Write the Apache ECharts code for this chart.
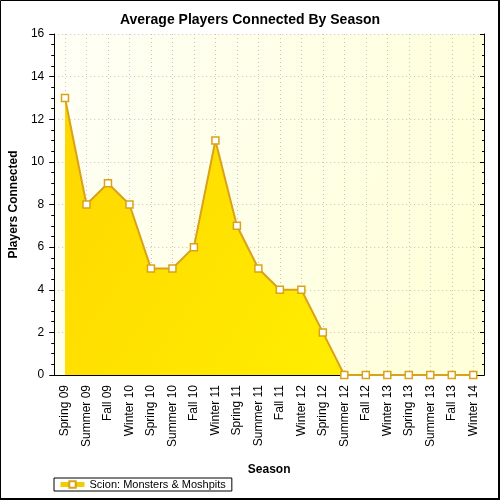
<!DOCTYPE html>
<html>
<head>
<meta charset="utf-8">
<script src="https://cdn.jsdelivr.net/npm/echarts@6/dist/echarts.min.js"></script>
<style>
html,body{margin:0;padding:0;background:#fff;}
#chart{width:500px;height:500px;}
</style>
</head>
<body>
<div id="chart"></div>
<script>
const titleText = 'Average Players Connected By Season';
const seriesName = 'Scion: Monsters & Moshpits';
const categories = ['Spring 09','Summer 09','Fall 09','Winter 10','Spring 10','Summer 10','Fall 10','Winter 11','Spring 11','Summer 11','Fall 11','Winter 12','Spring 12','Summer 12','Fall 12','Winter 13','Spring 13','Summer 13','Fall 13','Winter 14'];
const players = [13, 8, 9, 8, 5, 5, 6, 11, 7, 5, 4, 4, 2, 0, 0, 0, 0, 0, 0, 0];
const yTicks = {min: 0, max: 16, interval: 2};

const chart = echarts.init(document.getElementById('chart'), null, {renderer: 'canvas'});
const font = 'Liberation Sans, Arial, sans-serif';
const lineGold = '#D9A21B';
const option = {
  backgroundColor: '#fff',
  animation: false,
  textStyle: {fontFamily: font},
  title: {
    text: titleText, left: 'center', top: 8,
    textStyle: {fontFamily: font, fontSize: 14, fontWeight: 'bold', color: '#000'}
  },
  legend: {
    left: 54, top: 478, padding: [1, 6, 1, 4],
    borderColor: '#000', borderWidth: 1, borderRadius: 0,
    itemWidth: 24, itemHeight: 8, itemGap: 6,
    textStyle: {fontFamily: font, fontSize: 11, color: '#000'},
    lineStyle: {width: 5, color: '#F2CC00'},
    data: [seriesName]
  },
  grid: {
    left: 54, right: 16, top: 34, bottom: 125, show: true, borderWidth: 0,
    backgroundColor: new echarts.graphic.LinearGradient(0, 0, 1, 0.4, [
      {offset: 0, color: '#FFFFF6'}, {offset: 1, color: '#FFFFDA'}
    ])
  },
  xAxis: [{
    type: 'category', data: categories, boundaryGap: true, position: 'bottom',
    name: 'Season', nameLocation: 'middle', nameGap: 89,
    nameTextStyle: {fontFamily: font, fontSize: 12, fontWeight: 'bold', color: '#000'},
    axisLine: {lineStyle: {color: '#000', width: 1}},
    axisTick: {alignWithLabel: true, length: 6, lineStyle: {color: '#000'}},
    axisLabel: {rotate: 90, interval: 0, margin: 10, fontSize: 12, fontFamily: font, color: '#000'},
    splitLine: {show: true, alignWithLabel: true, lineStyle: {color: '#C4C4C4', type: [1, 3]}}
  }, {
    type: 'category', data: categories, boundaryGap: true, position: 'top',
    axisLine: {lineStyle: {color: '#000', width: 1}},
    axisTick: {alignWithLabel: true, inside: true, length: 4, lineStyle: {color: '#000'}},
    axisLabel: {show: false}, splitLine: {show: false}
  }],
  yAxis: [{
    type: 'value', min: yTicks.min, max: yTicks.max, interval: yTicks.interval, position: 'left',
    name: 'Players Connected', nameLocation: 'middle', nameGap: 33,
    nameTextStyle: {fontFamily: font, fontSize: 12, fontWeight: 'bold', color: '#000'},
    axisLine: {show: true, lineStyle: {color: '#000', width: 1}},
    axisTick: {show: true, length: 5, lineStyle: {color: '#000'}},
    minorTick: {show: true, splitNumber: 4, length: 3, lineStyle: {color: '#000'}},
    axisLabel: {margin: 10, fontSize: 12, fontFamily: font, color: '#000'},
    splitLine: {show: true, lineStyle: {color: '#C4C4C4', type: [1, 3]}}
  }, {
    type: 'value', min: yTicks.min, max: yTicks.max, interval: yTicks.interval, position: 'right',
    axisLine: {show: true, lineStyle: {color: '#000', width: 1}},
    axisTick: {show: true, inside: true, length: 4, lineStyle: {color: '#000'}},
    minorTick: {show: true, splitNumber: 4, length: 2, lineStyle: {color: '#000'}},
    axisLabel: {show: false}, splitLine: {show: false}
  }],
  series: [{
    name: seriesName, type: 'line', xAxisIndex: 0, yAxisIndex: 0,
    data: players,
    symbol: 'rect', symbolSize: 7, showAllSymbol: true,
    lineStyle: {color: lineGold, width: 2},
    itemStyle: {color: '#FFFFFF', borderColor: lineGold, borderWidth: 1.5},
    areaStyle: {
      opacity: 1,
      color: new echarts.graphic.LinearGradient(0, 0, 1, 1, [
        {offset: 0, color: '#FFD600'}, {offset: 1, color: '#FFF400'}
      ])
    }
  }],
  graphic: [{
    type: 'polyline', silent: true, z: 100,
    shape: {points: [[0.5, 499], [0.5, 0.5], [499, 0.5]]},
    style: {stroke: '#000', lineWidth: 1, fill: null}
  }, {
    type: 'polyline', silent: true, z: 100,
    shape: {points: [[499, 0], [499, 499], [0, 499]]},
    style: {stroke: '#000', lineWidth: 2, fill: null}
  }]
};
chart.setOption(option);
</script>
</body>
</html>
